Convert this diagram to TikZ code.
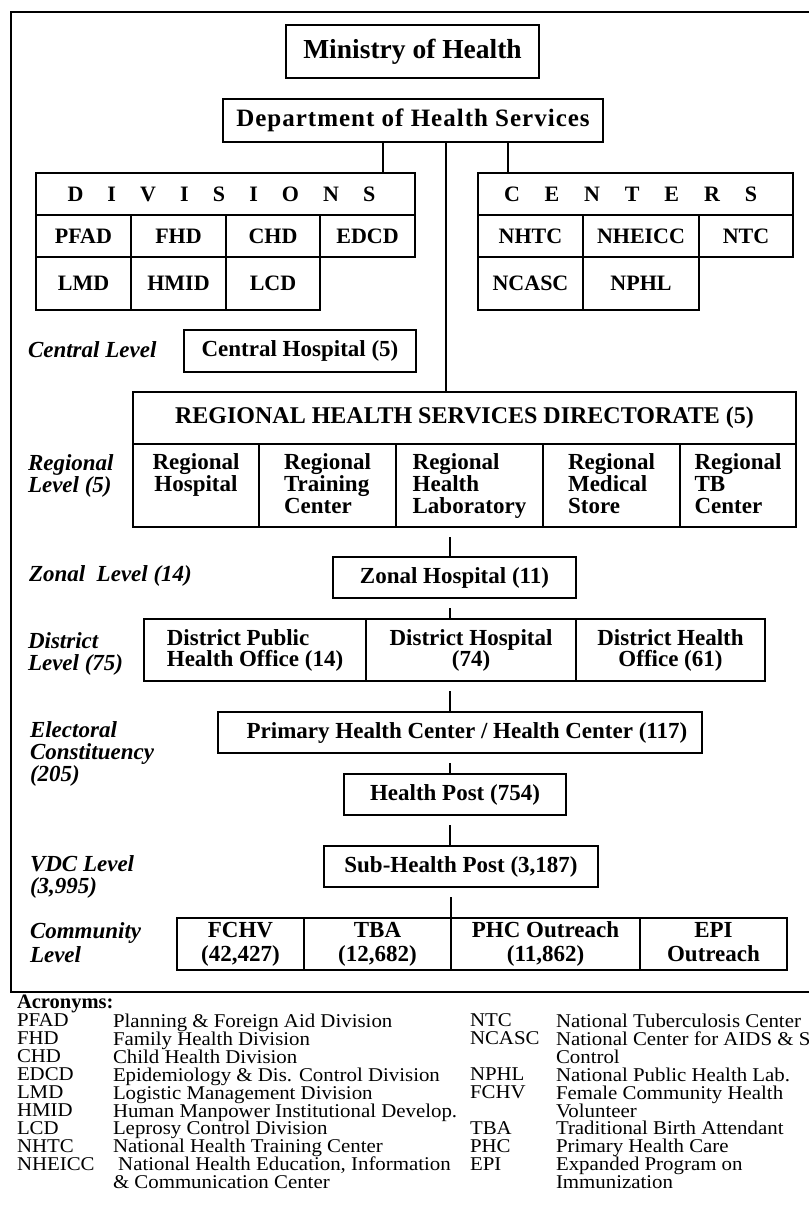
\documentclass[tikz,border=0pt]{standalone}
\usepackage{fontspec}
\setmainfont{Liberation Serif}
\newfontfamily\trackfont[LetterSpace=4]{Liberation Serif}
\newfontfamily\listfont[FakeStretch=1.07]{Liberation Serif}
\newcommand{\tall}{\rule{0pt}{16pt}}
\newcommand{\deep}{\rule[-5pt]{0pt}{5pt}}

\begin{document}
\lineskiplimit=-50pt
\begin{tikzpicture}[x=1pt, y=-1pt,
  every node/.style={outer sep=0pt, inner sep=0pt},
  cell/.style={draw, line width=1.5pt, align=center, font=\bfseries\fontsize{23}{22}\selectfont},
  small/.style={cell, font=\bfseries\fontsize{22}{22}\selectfont},
  lvl/.style={anchor=north west, align=left, font=\bfseries\itshape\fontsize{23}{22}\selectfont},
  list/.style={anchor=north west, align=left, font=\listfont\fontsize{19.5}{17.9}\selectfont},
  link/.style={line width=1.2pt}]
\useasboundingbox (0,0) rectangle (808,1220);
\draw[line width=1.6pt] (11,12) rectangle (840,992);

\node[cell, minimum width=253pt, minimum height=53pt, font=\bfseries\fontsize{27.5}{30}\selectfont] (moh) at (412.5,51.5) {Ministry of Health};
\node[cell, minimum width=380pt, minimum height=43pt, font=\trackfont\bfseries\fontsize{25}{28}\selectfont] (dhs) at (413,120.5) {Department of Health Services};

\node[small, minimum width=379pt, minimum height=42pt] (divh) at (225.5,194) {\makebox[308pt][s]{D I V I S I O N S}\hspace{8pt}};
\node[small, minimum width=95pt, minimum height=42pt] (pfad) at (83.5,236) {PFAD};
\node[small, minimum width=95pt, minimum height=42pt] (fhd) at (178.5,236) {FHD};
\node[small, minimum width=94pt, minimum height=42pt] (chd) at (273,236) {CHD};
\node[small, minimum width=95pt, minimum height=42pt] (edcd) at (367.5,236) {EDCD};
\node[small, minimum width=95pt, minimum height=53pt] (lmd) at (83.5,283.5) {LMD};
\node[small, minimum width=95pt, minimum height=53pt] (hmid) at (178.5,283.5) {HMID};
\node[small, minimum width=94pt, minimum height=53pt] (lcd) at (273,283.5) {LCD};

\node[small, minimum width=315pt, minimum height=42pt] (cenh) at (635.5,194) {\makebox[253pt][s]{C E N T E R S}\hspace{10pt}};
\node[small, minimum width=105pt, minimum height=42pt] (nhtc) at (530.5,236) {NHTC};
\node[small, minimum width=116pt, minimum height=42pt] (nheicc) at (641,236) {NHEICC};
\node[small, minimum width=94pt, minimum height=42pt] (ntc) at (746,236) {NTC};
\node[small, minimum width=105pt, minimum height=53pt] (ncasc) at (530.5,283.5) {NCASC};
\node[small, minimum width=116pt, minimum height=53pt] (nphl) at (641,283.5) {NPHL};

\node[lvl, anchor=base west] (lcentral) at (28,357) {Central Level};
\node[cell, minimum width=232pt, minimum height=42pt] (ch) at (300,351) {Central Hospital (5)};

\node[cell, minimum width=663pt, minimum height=52pt, font=\bfseries\fontsize{24}{24}\selectfont] (rhsd) at (464.5,418) {REGIONAL HEALTH SERVICES DIRECTORATE (5)};
\node[lvl] (lregional) at (28,454.3) {Regional\\Level (5)};
\node[cell, minimum width=126pt, minimum height=83pt] (rh) at (196,485.5) {\tall Regional\\Hospital\\\deep};
\node[cell, minimum width=137pt, minimum height=83pt, align=left] (rtc) at (327.5,485.5) {\tall Regional\\Training\\Center\deep};
\node[cell, minimum width=147pt, minimum height=83pt, align=left] (rhl) at (469.5,485.5) {\tall Regional\\Health\\Laboratory\deep};
\node[cell, minimum width=137pt, minimum height=83pt, align=left] (rms) at (611.5,485.5) {\tall Regional\\Medical\\Store\deep};
\node[cell, minimum width=116pt, minimum height=83pt, align=left] (rtb) at (738,485.5) {\tall Regional\\TB\\Center\deep};

\node[lvl, anchor=base west] (lzonal) at (29,581) {Zonal~ Level (14)};
\node[cell, minimum width=243pt, minimum height=41pt] (zh) at (454.5,577.5) {Zonal Hospital (11)};

\node[lvl] (ldistrict) at (28,632.3) {District\\Level (75)};
\node[cell, minimum width=222pt, minimum height=62pt, align=left, font=\bfseries\fontsize{23}{21}\selectfont] (dpho) at (255,650) {\tall District Public\\Health Office (14)\deep};
\node[cell, minimum width=210pt, minimum height=62pt, font=\bfseries\fontsize{23}{21}\selectfont] (dhosp) at (471,650) {\tall District Hospital\\(74)\deep};
\node[cell, minimum width=189pt, minimum height=62pt, font=\bfseries\fontsize{23}{21}\selectfont] (dho) at (670.5,650) {\tall District Health\\Office (61)\deep};

\node[lvl] (lelect) at (30,721.3) {Electoral\\Constituency\\(205)};
\node[cell, minimum width=484pt, minimum height=41pt] (phc) at (460,732.5) {\hspace{14pt}Primary Health Center / Health Center (117)};
\node[cell, minimum width=222pt, minimum height=41pt] (hp) at (455,794.5) {Health Post (754)};

\node[lvl] (lvdc) at (30,855.3) {VDC Level\\(3,995)};
\node[cell, minimum width=274pt, minimum height=41pt] (shp) at (461,866.5) {Sub-Health Post (3,187)};

\node[lvl, font=\bfseries\itshape\fontsize{23}{24}\selectfont] (lcomm) at (30,922.3) {Community\\Level};
\node[cell, minimum width=127pt, minimum height=52pt, font=\bfseries\fontsize{23}{24}\selectfont] (fchv) at (240.5,944) {\tall FCHV\\(42,427)\deep};
\node[cell, minimum width=147pt, minimum height=52pt, font=\bfseries\fontsize{23}{24}\selectfont] (tba) at (377.5,944) {\tall TBA\\(12,682)\deep};
\node[cell, minimum width=189pt, minimum height=52pt, font=\bfseries\fontsize{23}{24}\selectfont] (phco) at (545.5,944) {\tall PHC Outreach\\(11,862)\deep};
\node[cell, minimum width=147pt, minimum height=52pt, font=\bfseries\fontsize{23}{24}\selectfont] (epi) at (713.5,944) {\tall EPI\\Outreach\deep};

\coordinate (divtap) at (383,0);
\coordinate (centap) at (508,0);
\coordinate (maintap) at (446,0);
\coordinate (spine) at (450,0);
\draw[link] (dhs.south -| divtap) -- (divh.north -| divtap);
\draw[link] (dhs.south -| centap) -- (cenh.north -| centap);
\draw[link] (dhs.south -| maintap) -- (rhsd.north -| maintap);
\draw[link, shorten <=10pt] (rhl.south -| spine) -- (zh.north -| spine);
\draw[link, shorten <=10pt] (zh.south -| spine) -- (dhosp.north -| spine);
\draw[link, shorten <=10pt] (dhosp.south -| spine) -- (phc.north -| spine);
\draw[link, shorten <=10pt] (phc.south -| spine) -- (hp.north -| spine);
\draw[link, shorten <=10pt] (hp.south -| spine) -- (shp.north -| spine);
\draw[link, shorten <=10pt] (shp.south -| phco.north west) -- (phco.north west);

\node[anchor=base west, font=\bfseries\fontsize{20.5}{18}\selectfont] (acrtitle) at (17,1008) {Acronyms:};
\node[list] (acrleft) at (17,1014) {PFAD\\FHD\\CHD\\EDCD\\LMD\\HMID\\LCD\\NHTC\\NHEICC};
\node[list] (descleft) at (113,1014) {Planning \& Foreign Aid Division\\Family Health Division\\Child Health Division\\Epidemiology \& Dis. Control Division\\Logistic Management Division\\Human Manpower Institutional Develop.\\Leprosy Control Division\\National Health Training Center\\\ National Health Education, Information\\\& Communication Center};
\node[list] (acrright) at (470,1014) {NTC\\NCASC\\\mbox{}\\NPHL\\FCHV\\\mbox{}\\TBA\\PHC\\EPI};
\node[list] (descright) at (556,1014) {National Tuberculosis Center\\National Center for AIDS \& STD\\Control\\National Public Health Lab.\\Female Community Health\\Volunteer\\Traditional Birth Attendant\\Primary Health Care\\Expanded Program on\\Immunization};
\end{tikzpicture}
\end{document}
